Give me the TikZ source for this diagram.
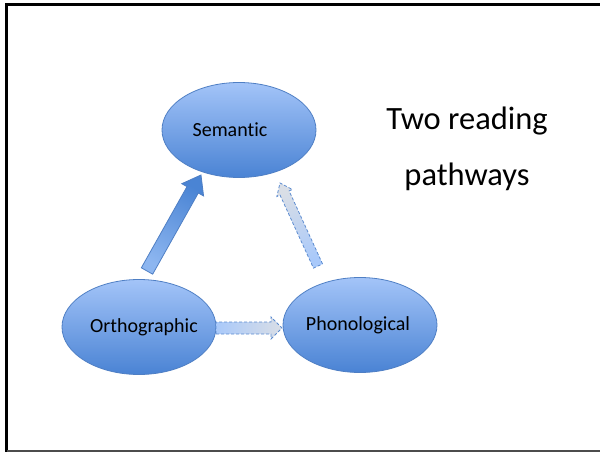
\documentclass[tikz,border=0pt]{standalone}
\usepackage{fontspec}
\setmainfont{Carlito}[Ligatures=NoCommon]
\usetikzlibrary{shapes.geometric,calc}
\definecolor{bubbletop}{HTML}{A3C4F8}
\definecolor{bubblebot}{HTML}{4A83D4}
\definecolor{bubbleline}{HTML}{4F7FC4}
\definecolor{pathlight}{HTML}{A9C9FA}
\definecolor{pathgray}{HTML}{D9DEE6}
\definecolor{pathdark}{HTML}{4A84D4}
\definecolor{pathmid}{HTML}{8DB6F0}
\definecolor{pathline}{HTML}{5B8BD0}
% block arrow: tail, tip, shaft half width, head half width, head length, style
\newcommand{\blockarrow}[6]{%
  \coordinate (hb) at ($(#2)!#5!(#1)$);
  \path[#6] ($(#1)!#3!-90:(#2)$) -- ($(hb)!#3!-90:(#2)$) -- ($(hb)!#4!-90:(#2)$) -- (#2)
    -- ($(hb)!#4!90:(#2)$) -- ($(hb)!#3!90:(#2)$) -- ($(#1)!#3!90:(#2)$) -- cycle;
}
% text shifted sideways inside a bubble
\newcommand{\shifted}[2]{\makebox[0pt]{\hspace*{#1}#2}}

\begin{document}
\begin{tikzpicture}[x=1pt,y=-1pt,
    bubble/.style={ellipse,draw=bubbleline,line width=0.8pt,top color=bubbletop,bottom color=bubblebot,
      minimum width=154pt,minimum height=95pt,inner sep=0pt,font=\fontsize{20}{24}\selectfont},
    heading/.style={anchor=base,font=\fontsize{32.5}{39}\selectfont},
    solidpath/.style={top color=pathdark,bottom color=pathmid,shading angle=-29.2,draw=bubbleline,line width=0.8pt},
    dashpath/.style={top color=pathgray,bottom color=pathlight,draw=pathline,line width=0.8pt,dash pattern=on 3pt off 2pt}]
  \useasboundingbox (0,0) rectangle (600,452);
  \draw[line width=3pt] (6.5,452) -- (6.5,4.5) -- (600,4.5);
  \draw[line width=1.5pt,draw=black!70] (6.5,451) -- (600,451);

  \node[bubble] (sem) at (239,130) {\shifted{-18pt}{Semantic}};
  \node[bubble] (orth) at (139,327) {\shifted{10pt}{Orthographic}};
  \node[bubble] (phon) at (360,325) {\shifted{-4pt}{Phonological}};
  \node[heading] (title1) at (467,129) {Two reading};
  \node[heading] (title2) at (467,185) {pathways};

  \coordinate (os1) at ($(orth)+(8,-56)$);
  \coordinate (os2) at ($(sem)+(-38,45)$);
  \coordinate (ps1) at ($(phon)+(-42,-59)$);
  \coordinate (ps2) at ($(sem)+(41,53)$);
  \coordinate (op1) at ($(orth)+(77,1)$);
  \coordinate (op2) at ($(phon)+(-78,3)$);

  \blockarrow{os1}{os2}{6.5pt}{12.5pt}{17pt}{solidpath}
  \blockarrow{ps1}{ps2}{5pt}{8.5pt}{11pt}{dashpath,shading angle=24.8}
  \blockarrow{op1}{op2}{6pt}{11pt}{11pt}{dashpath,shading angle=-90}
\end{tikzpicture}
\end{document}
